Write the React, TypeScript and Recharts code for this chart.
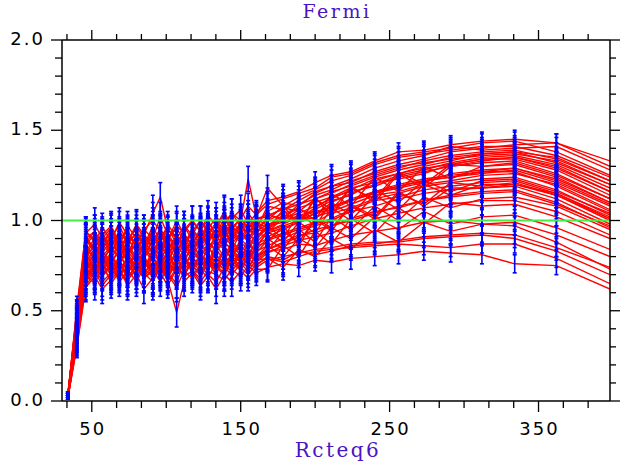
import { LineChart, Line, XAxis, YAxis, ErrorBar, ReferenceLine } from "recharts";

// x positions of the measured points
const xValues = [34, 40, 46, 52, 57, 63, 68.5, 74, 80, 85, 91, 96, 101, 107, 112, 117.5, 123, 128, 133.5, 139, 144, 150, 155, 160.5, 168, 178.5, 189, 200, 211, 224, 240, 256, 273, 291, 312, 334, 362, 398];
// half-length of the blue error bars at each x
const errValues = [.01, .06, .08, .09, .08, .08, .08, .08, .08, .08, .10, .08, .07, .08, .08, .08, .08, .08, .08, .09, .08, .08, .07, .07, .07, .07, .06, .06, .06, .06, .05, .05, .05, .05, .05, .05, .05, null];

const s01 = [.03, .42, .85, .78, .92, .80, .74, .88, .79, .85, .95, .82, .76, .88, .83, .90, .86, .94, .88, .97, .92, .95, 1.02, .96, 1.00, 1.08, .98, 1.12, 1.06, 1.18, 1.12, 1.27, 1.20, 1.31, 1.30, 1.31, 1.24, 1.10];
const s02 = [.02, .38, .72, .80, .70, .76, .84, .71, .77, .69, .80, .74, .83, .72, .78, .86, .80, .76, .88, .84, .79, .90, .85, .93, .91, .95, .99, 1.02, 1.05, 1.09, 1.14, 1.16, 1.20, 1.22, 1.25, 1.26, 1.20, 1.06];
const s03 = [.04, .50, .91, .84, .94, .82, .89, .80, .92, .86, .97, .88, .83, .92, .87, .95, .90, .99, .93, 1.01, .96, .92, 1.04, .98, 1.05, 1.10, 1.08, 1.15, 1.19, 1.21, 1.27, 1.31, 1.34, 1.38, 1.40, 1.42, 1.43, 1.33];
const s04 = [.03, .33, .66, .72, .64, .70, .78, .67, .73, .80, .69, .76, .71, .65, .79, .73, .82, .77, .70, .81, .75, .84, .79, .86, .88, .97, .86, 1.01, .94, 1.09, 1.02, 1.16, 1.08, 1.18, 1.18, 1.20, 1.15, 1.02];
const s05 = [.02, .45, .88, .94, .82, .89, .83, .92, .86, .78, .90, .84, .93, .80, .87, .81, .92, .87, .95, .90, .97, .92, .99, .94, .98, 1.00, 1.06, 1.03, 1.10, 1.15, 1.20, 1.25, 1.28, 1.32, 1.35, 1.36, 1.31, 1.18];
const s06 = [.03, .40, .78, .70, .81, .74, .68, .79, .72, .84, .77, .70, .80, .74, .69, .78, .84, .80, .73, .85, .82, .77, .88, .83, .86, .90, .94, .97, 1.00, 1.05, 1.08, 1.12, 1.15, 1.17, 1.18, 1.19, 1.12, .98];
const s07 = [.04, .47, .90, .84, .76, .86, .91, .80, .88, .93, .84, .89, .79, .91, .86, .80, .93, .88, .84, .94, .89, .98, .92, .99, .96, 1.02, 1.00, 1.06, 1.11, 1.14, 1.22, 1.26, 1.30, 1.33, 1.37, 1.38, 1.35, 1.22];
const s08 = [.02, .35, .68, .75, .82, .69, .77, .73, .66, .74, .81, .77, .68, .79, .74, .83, .77, .72, .84, .78, .86, .81, .76, .87, .90, .93, .96, .99, 1.04, 1.07, 1.12, 1.15, 1.19, 1.21, 1.23, 1.24, 1.17, 1.03];
const s09 = [.03, .44, .83, .90, .87, .95, .85, .91, .82, .87, .78, .93, .88, .84, .97, .89, .85, .92, .99, .90, .95, 1.01, .96, .91, .95, 1.06, .97, 1.13, 1.02, 1.19, 1.10, 1.26, 1.18, 1.30, 1.32, 1.33, 1.26, 1.12];
const s10 = [.02, .31, .64, .71, .77, .65, .72, .80, .75, .68, .73, .66, .75, .81, .71, .76, .69, .81, .76, .73, .83, .78, .85, .80, .84, .88, .92, .93, .97, 1.00, 1.04, 1.08, 1.11, 1.14, 1.16, 1.17, 1.10, .96];
const s11 = [.04, .49, .90, .84, .92, .97, .88, .94, .86, .95, .90, 1.02, .92, .86, .95, 1.00, .94, 1.03, .97, 1.05, .96, 1.01, 1.08, 1.03, 1.09, 1.12, 1.15, 1.18, 1.24, 1.26, 1.32, 1.36, 1.38, 1.40, 1.43, 1.44, 1.38, 1.25];
const s12 = [.03, .37, .75, .81, .73, .79, .87, .76, .82, .77, .70, .83, .78, .86, .75, .82, .79, .74, .86, .80, .88, .84, .80, .89, .97, .90, 1.04, .97, 1.10, 1.03, 1.17, 1.10, 1.22, 1.16, 1.22, 1.23, 1.16, 1.04];
const s13 = [.02, .42, .80, .86, .93, .83, .89, .95, .84, .90, .86, .96, .81, .88, .93, .85, .90, .97, .91, .87, .94, .90, .97, 1.01, .97, 1.03, 1.01, 1.07, 1.13, 1.16, 1.19, 1.24, 1.27, 1.30, 1.33, 1.35, 1.29, 1.16];
const s14 = [.03, .34, .70, .65, .74, .81, .72, .66, .78, .71, .77, .73, .68, .77, .82, .70, .75, .79, .72, .78, .74, .82, .78, .84, .90, .84, .95, .88, 1.02, .95, 1.08, 1.00, 1.13, 1.07, 1.12, 1.13, 1.08, .95];
const s15 = [.04, .46, .87, .92, .85, .91, .97, .88, .93, .86, .92, .87, .98, .90, .85, .94, 1.00, .93, .89, .98, .93, .89, .95, .92, 1.03, 1.01, 1.09, 1.12, 1.16, 1.19, 1.24, 1.28, 1.31, 1.35, 1.37, 1.38, 1.32, 1.20];
const s16 = [.02, .39, .77, .84, .79, .72, .80, .85, .78, .82, .88, .80, .73, .84, .89, .81, .87, .83, .92, .85, .81, .88, .93, .88, .94, .97, 1.00, 1.04, 1.06, 1.11, 1.16, 1.19, 1.22, 1.24, 1.26, 1.28, 1.21, 1.08];
const s17 = [.03, .52, .94, .89, .84, .92, .86, .97, .90, .83, .93, .88, .95, .90, .86, .94, .89, .96, .92, .99, 1.04, .97, 1.02, .95, 1.08, 1.06, 1.11, 1.16, 1.19, 1.23, 1.29, 1.33, 1.36, 1.41, 1.39, 1.40, 1.41, 1.28];
const s18 = [.02, .36, .72, .68, .75, .79, .70, .74, .81, .76, .72, .79, .85, .70, .77, .74, .80, .86, .78, .75, .80, .86, .82, .78, .83, .94, .88, 1.01, .96, 1.08, 1.01, 1.15, 1.09, 1.21, 1.19, 1.21, 1.14, 1.00];
const s19 = [.03, .43, .82, .77, .88, .84, .79, .89, .84, .92, .85, .80, .91, .86, .81, .90, .84, .89, .94, .88, .84, .93, .88, .95, .94, .98, 1.02, 1.01, 1.08, 1.11, 1.15, 1.18, 1.21, 1.26, 1.28, 1.29, 1.23, 1.10];
const s20 = [.04, .48, .90, .94, .87, .81, .93, .88, .97, .90, .86, .95, .89, 1.00, .92, .86, .96, .90, .95, 1.04, .93, .98, .92, 1.01, 1.02, 1.07, 1.05, 1.12, 1.15, 1.20, 1.25, 1.29, 1.33, 1.36, 1.38, 1.39, 1.34, 1.22];
const s21 = [.02, .32, .67, .74, .69, .75, .66, .72, .79, .69, .75, .71, .64, .73, .79, .72, .68, .77, .74, .70, .78, .73, .81, .77, .82, .86, .89, .91, .93, .97, 1.01, 1.04, 1.07, 1.09, 1.11, 1.11, 1.05, .92];
const s22 = [.03, .41, .79, .87, .80, .86, .92, .82, .87, .81, .89, .95, .85, .79, .88, .93, .86, .82, .90, .95, .87, .93, .89, .98, .93, 1.02, 1.07, 1.00, 1.15, 1.08, 1.24, 1.16, 1.30, 1.23, 1.30, 1.32, 1.25, 1.12];
const s23 = [.04, .45, .86, .80, .91, .87, .82, .93, .87, .83, .91, .86, .80, .92, .87, .84, .91, .95, .86, .92, .99, .94, .90, .96, 1.00, 1.04, 1.07, 1.10, 1.13, 1.18, 1.21, 1.23, 1.26, 1.31, 1.34, 1.35, 1.30, 1.16];
const s24 = [.02, .36, .72, .78, .70, .76, .72, .67, .76, .71, .66, .74, .70, .63, .72, .68, .75, .70, .66, .74, .70, .76, .72, .78, .79, .74, .84, .80, .90, .84, .95, .88, .99, .94, .98, .99, .92, .80];
const s25 = [.03, .40, .77, .71, .79, .73, .80, .75, .70, .78, .74, .69, .77, .72, .79, .75, .70, .78, .74, .80, .76, .73, .79, .75, .80, .78, .83, .81, .83, .86, .87, .89, .91, .92, .93, .92, .85, .74];
const s26 = [.02, .33, .68, .74, .66, .71, .76, .69, .74, .68, .72, .78, .66, .74, .69, .72, .66, .72, .70, .67, .73, .69, .75, .71, .74, .76, .75, .78, .77, .79, .80, .81, .83, .82, .81, .76, .75, .62];
const s27 = [.03, .38, .74, .69, .76, .82, .73, .78, .68, .75, .80, .72, .77, .70, .76, .80, .73, .68, .77, .73, .78, .74, .70, .76, .79, .77, .80, .83, .84, .85, .86, .87, .86, .85, .87, .87, .79, .65];
const s28 = [.04, .42, .80, .74, .81, .77, .71, .79, .75, .81, .70, .76, .72, .79, .73, .78, .71, .79, .75, .71, .80, .77, .74, .81, .83, .84, .87, .86, .89, .92, .94, .96, .99, 1.00, .98, .97, .88, .73];
const s29 = [.03, .47, .93, .98, .90, .86, .94, .88, .98, .92, 1.04, 1.13, .95, .90, .97, .92, 1.00, .95, 1.02, .97, 1.04, 1.00, 1.23, 1.02, 1.18, 1.08, 1.13, 1.17, 1.22, 1.25, 1.31, 1.35, 1.37, 1.39, 1.41, 1.41, 1.36, 1.24];
const s30 = [.02, .30, .63, .69, .62, .67, .73, .64, .70, .62, .68, .74, .67, .49, .66, .71, .64, .69, .62, .70, .66, .72, .68, .73, .73, .86, .80, .94, .87, 1.01, .93, 1.07, .98, 1.10, 1.08, 1.09, 1.02, .90];
const s31 = [.03, .44, .84, .79, .90, .96, .86, .81, .92, .88, .82, .91, .96, .87, .92, .87, .95, 1.00, .92, .97, .91, .99, .95, 1.01, 1.03, 1.06, 1.09, 1.14, 1.17, 1.22, 1.26, 1.30, 1.32, 1.34, 1.36, 1.37, 1.33, 1.20];
const s32 = [.02, .37, .74, .82, .76, .70, .78, .83, .77, .73, .84, .78, .73, .82, .77, .86, .81, .76, .83, .88, .84, .79, .87, .82, .89, .92, .95, .98, 1.01, 1.06, 1.11, 1.13, 1.17, 1.19, 1.21, 1.22, 1.15, 1.01];
const s33 = [.04, .50, .94, .88, .96, .89, .99, .92, .87, .95, 1.00, .94, .89, .97, .93, 1.00, .94, .91, .99, .95, 1.01, 1.06, .98, 1.04, 1.11, 1.13, 1.16, 1.21, 1.25, 1.27, 1.33, 1.38, 1.39, 1.42, 1.44, 1.45, 1.43, 1.30];
const s34 = [.03, .34, .69, .76, .72, .78, .69, .75, .82, .74, .79, .72, .80, .75, .70, .79, .74, .81, .77, .84, .79, .75, .83, .79, .84, .87, .91, .95, .97, 1.01, 1.05, 1.07, 1.11, 1.13, 1.15, 1.16, 1.09, .97];
const s35 = [.02, .43, .82, .88, .78, .85, .80, .87, .93, .85, .79, .88, .84, .91, .83, .88, .93, .85, .91, .86, .92, .88, .84, .91, .97, .99, 1.03, 1.05, 1.07, 1.12, 1.16, 1.20, 1.23, 1.25, 1.27, 1.29, 1.22, 1.09];
const s36 = [.03, .39, .76, .71, .83, .77, .84, .78, .73, .80, .85, .76, .82, .77, .84, .79, .76, .85, .80, .77, .87, .83, .79, .85, .94, .88, .99, .93, 1.07, 1.00, 1.14, 1.06, 1.20, 1.14, 1.20, 1.20, 1.14, 1.01];
const s37 = [.04, .46, .89, .83, .87, .93, .84, .90, .95, .87, .93, .85, .90, .96, .88, .92, .88, .94, .90, .93, .88, .96, .93, .97, .95, 1.01, 1.04, 1.08, 1.12, 1.17, 1.23, 1.26, 1.29, 1.31, 1.34, 1.34, 1.28, 1.14];
const s38 = [.02, .35, .70, .76, .73, .68, .75, .71, .78, .73, .69, .77, .71, .76, .80, .73, .78, .73, .79, .75, .72, .78, .74, .80, .86, .80, .90, .85, .96, .90, 1.02, .95, 1.05, .98, 1.02, 1.03, .96, .84];
const s39 = [.03, .41, .78, .73, .79, .72, .77, .82, .74, .79, .73, .80, .75, .71, .78, .74, .81, .77, .72, .79, .75, .80, .76, .74, .78, .80, .82, .84, .85, .87, .88, .88, .90, .91, .92, .90, .83, .70];
const s40 = [.03, .40, .81, .75, .85, .91, .80, .86, .78, .88, .83, .77, .87, .82, .90, .84, .79, .88, .83, .91, .86, .81, .90, .86, .93, .96, .99, 1.04, 1.08, 1.11, 1.15, 1.19, 1.22, 1.24, 1.27, 1.27, 1.19, 1.05];

const seriesList = [s01, s02, s03, s04, s05, s06, s07, s08, s09, s10, s11, s12, s13, s14, s15, s16, s17, s18, s19, s20,
  s21, s22, s23, s24, s25, s26, s27, s28, s29, s30, s31, s32, s33, s34, s35, s36, s37, s38, s39, s40];

const xTicks = [33.33, 50, 66.67, 83.33, 100, 116.67, 133.33, 150, 166.67, 183.33, 200, 216.67, 233.33, 250, 266.67, 283.33, 300, 316.67, 333.33, 350, 366.67, 383.33];
const xMajor = [50, 150, 250, 350];
const yTicks = [0, 0.1, 0.2, 0.3, 0.4, 0.5, 0.6, 0.7, 0.8, 0.9, 1.0, 1.1, 1.2, 1.3, 1.4, 1.5, 1.6, 1.7, 1.8, 1.9, 2.0];
const yMajor = [0, 0.5, 1.0, 1.5, 2.0];

const data = xValues.map((x, i) => {
  const row: Record<string, number | null> = { x, err: errValues[i] };
  seriesList.forEach((s, k) => {
    row[`s${k}`] = s[i];
  });
  return row;
});

const isMajor = (v: number, majors: number[]) => majors.some((m) => Math.abs(m - v) < 1e-6);
const labelFont = { fontFamily: "DejaVu Sans", fontSize: 18, letterSpacing: 2, fill: "#000" };
const titleColor = "#4a14c4";

const BottomTick = (props: any) => {
  const { x, y, payload } = props;
  const major = isMajor(payload.value, xMajor);
  return (
    <g>
      <line x1={x} y1={y} x2={x} y2={y + (major ? 11 : 7)} stroke="#000" strokeWidth={1.3} />
      {major && (
        <text x={x + 1} y={y + 34} textAnchor="middle" {...labelFont}>
          {payload.value}
        </text>
      )}
    </g>
  );
};

const TopTick = (props: any) => {
  const { x, y, payload } = props;
  const major = isMajor(payload.value, xMajor);
  return <line x1={x} y1={y} x2={x} y2={y - (major ? 10 : 6)} stroke="#000" strokeWidth={1.3} />;
};

const LeftTick = (props: any) => {
  const { x, y, payload } = props;
  const major = isMajor(payload.value, yMajor);
  return (
    <g>
      <line x1={x} y1={y} x2={x - (major ? 11 : 7)} y2={y} stroke="#000" strokeWidth={1.3} />
      {major && (
        <text x={x - 17} y={y + 5} textAnchor="end" {...labelFont}>
          {Number(payload.value).toFixed(1)}
        </text>
      )}
    </g>
  );
};

const RightTick = (props: any) => {
  const { x, y, payload } = props;
  const major = isMajor(payload.value, yMajor);
  return <line x1={x} y1={y} x2={x + (major ? 10 : 6)} y2={y} stroke="#000" strokeWidth={1.3} />;
};

const axisLine = { stroke: "#000", strokeWidth: 1.5 };

export default function App() {
  return (
    <div style={{ position: "absolute", left: 0, top: 0, width: 620, height: 463, background: "#fff" }}>
      <LineChart width={620} height={463} data={data} margin={{ top: 39, right: 9, bottom: 61, left: 61 }}>
        <XAxis xAxisId="bottom" dataKey="x" type="number" domain={[30, 398]} ticks={xTicks} interval={0}
          height={1} tickSize={0} tickMargin={0} tickLine={false} axisLine={axisLine} tick={<BottomTick />} allowDataOverflow />
        <XAxis xAxisId="top" orientation="top" dataKey="x" type="number" domain={[30, 398]} ticks={xTicks} interval={0}
          height={1} tickSize={0} tickMargin={0} tickLine={false} axisLine={axisLine} tick={<TopTick />} allowDataOverflow />
        <YAxis yAxisId="left" type="number" domain={[0, 2]} ticks={yTicks} interval={0}
          width={1} tickSize={0} tickMargin={0} tickLine={false} axisLine={axisLine} tick={<LeftTick />} allowDataOverflow />
        <YAxis yAxisId="right" orientation="right" type="number" domain={[0, 2]} ticks={yTicks} interval={0}
          width={1} tickSize={0} tickMargin={0} tickLine={false} axisLine={axisLine} tick={<RightTick />} allowDataOverflow />
        {seriesList.map((_, k) => (
          <Line key={`r${k}`} xAxisId="bottom" yAxisId="left" dataKey={`s${k}`} stroke="#ff0000" strokeWidth={1.4}
            dot={false} activeDot={false} isAnimationActive={false} type="linear" />
        ))}
        {seriesList.map((_, k) => (
          <Line key={`b${k}`} xAxisId="bottom" yAxisId="left" dataKey={`s${k}`} stroke="none"
            dot={false} activeDot={false} isAnimationActive={false} type="linear">
            <ErrorBar dataKey="err" width={2} stroke="#0000ff" strokeWidth={1.6} isAnimationActive={false} />
          </Line>
        ))}
        <ReferenceLine xAxisId="bottom" yAxisId="left" y={1} stroke="#44ee44" strokeWidth={2} />
      </LineChart>
      <svg width={620} height={463} style={{ position: "absolute", left: 0, top: 0, pointerEvents: "none" }}>
        <text x={337} y={18} textAnchor="middle" fontFamily="DejaVu Serif" fontSize={19} letterSpacing={2.5} fill={titleColor}>
          Fermi
        </text>
        <text x={338} y={457} textAnchor="middle" fontFamily="DejaVu Serif" fontSize={20} letterSpacing={2.5} fill={titleColor}>
          Rcteq6
        </text>
      </svg>
    </div>
  );
}
